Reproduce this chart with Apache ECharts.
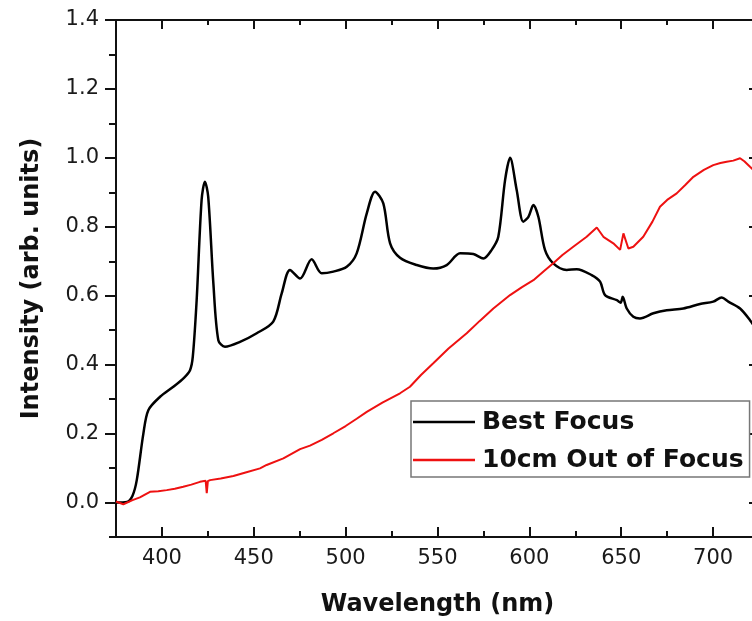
<!DOCTYPE html>
<html>
<head>
<meta charset="utf-8">
<script src="https://cdn.jsdelivr.net/npm/echarts@6/dist/echarts.min.js"></script>
<style>
  html, body { margin: 0; padding: 0; background: #fff; }
  #chart { width: 752px; height: 621px; }
</style>
</head>
<body>
<div id="chart"></div>
<script>
// Best Focus (black)
const bestX = [375, 381, 384, 386.3, 389.9, 392.6, 399, 406.2, 412, 415.3, 416.8, 418.9, 421.6, 423.4, 425.2, 428, 430.7, 434.3, 442.5, 451.6, 460.6, 465.2, 469.7, 475.2, 481.5, 487, 493.3, 500.6, 506, 511.5, 516, 520.5, 524.2, 529.6, 538.7, 547.7, 555, 562.3, 569.5, 575, 579.5, 583.1, 586.8, 589.5, 593.1, 596.7, 599.5, 602.2, 604.9, 608.5, 613, 620.3, 625.8, 633.9, 638.5, 641.2, 647.6, 649.7, 650.8, 653, 656.6, 660.2, 667.5, 674.8, 683.8, 692.9, 700.1, 704.7, 708.3, 714.7, 720.1, 725]
const bestY = [0.0, 0.002, 0.02, 0.065, 0.2, 0.268, 0.307, 0.336, 0.362, 0.384, 0.423, 0.587, 0.878, 0.931, 0.887, 0.636, 0.471, 0.452, 0.466, 0.491, 0.525, 0.607, 0.675, 0.65, 0.706, 0.665, 0.67, 0.684, 0.723, 0.839, 0.902, 0.868, 0.752, 0.71, 0.689, 0.679, 0.689, 0.723, 0.721, 0.708, 0.733, 0.771, 0.936, 1.0, 0.907, 0.815, 0.829, 0.863, 0.829, 0.733, 0.694, 0.675, 0.677, 0.66, 0.641, 0.602, 0.587, 0.58, 0.597, 0.563, 0.539, 0.534, 0.549, 0.558, 0.563, 0.576, 0.583, 0.595, 0.583, 0.563, 0.529, 0.49]

// 10cm Out of Focus (red)
const outX = [375, 379, 384, 388, 393.5, 398, 402.6, 407, 411.6, 416, 420.7, 423.8, 424.4, 425, 426.2, 432, 438.9, 446, 453.4, 457, 466.1, 475.2, 480.6, 487, 493.3, 500, 506, 511.5, 520, 529.6, 535, 541, 547.7, 556, 565.9, 573, 580.4, 589.5, 596, 602.2, 608, 613, 618, 623.9, 631.2, 636.7, 640.3, 645.7, 649.4, 651.2, 653.9, 656.6, 662, 667, 671.1, 675, 680.2, 685, 689.3, 695, 700.1, 704, 707.4, 711, 714.7, 717, 720.1, 725]
const outY = [0.003, -0.005, 0.007, 0.015, 0.031, 0.033, 0.036, 0.04, 0.046, 0.052, 0.06, 0.063, 0.027, 0.062, 0.065, 0.07, 0.077, 0.088, 0.099, 0.109, 0.128, 0.155, 0.165, 0.182, 0.201, 0.222, 0.243, 0.263, 0.29, 0.317, 0.336, 0.37, 0.404, 0.447, 0.491, 0.527, 0.563, 0.602, 0.625, 0.645, 0.672, 0.694, 0.718, 0.742, 0.771, 0.798, 0.771, 0.752, 0.733, 0.781, 0.737, 0.742, 0.771, 0.815, 0.858, 0.878, 0.897, 0.922, 0.945, 0.965, 0.979, 0.985, 0.989, 0.992, 0.999, 0.99, 0.974, 0.95]

// axis ticks
const xMajor = [400, 450, 500, 550, 600, 650, 700]
const xMinor = [425, 475, 525, 575, 625, 675, 725]
const yMajor = [0, 0.2, 0.4, 0.6, 0.8, 1.0, 1.2, 1.4]
const yMinor = [-0.1, 0.1, 0.3, 0.5, 0.7, 0.9, 1.1, 1.3]

const X_MIN = 375
const X_MAX = 725
const Y_MIN = -0.1
const Y_MAX = 1.4

const font = 'DejaVu Sans'
const ink = '#111'

function pairs (xs, ys) {
  return xs.map((x, i) => [x, ys[i]])
}

// one axis that only draws ticks (no line, no labels)
function tickAxis (extra) {
  return Object.assign({
    type: 'value',
    axisLine: { show: false, onZero: false },
    axisLabel: { show: false },
    splitLine: { show: false }
  }, extra)
}

const chart = echarts.init(document.getElementById('chart'), null, { renderer: 'canvas' })

// plot box runs a little past the right edge of the picture (as in the cropped original)
const gridBox = { left: 116, top: 20, width: 643, height: 517, containLabel: false, outerBoundsMode: 'none' }

const option = {
  backgroundColor: '#fff',
  animation: false,
  grid: [
    Object.assign({}, gridBox),
    Object.assign({}, gridBox)
  ],
  legend: {
    data: [
      { name: 'Best Focus', icon: 'rect' },
      { name: '10cm Out of Focus', icon: 'rect' }
    ],
    orient: 'vertical',
    left: 411,
    top: 401,
    itemWidth: 62,
    itemHeight: 2.5,
    itemGap: 8,
    padding: [6, 6, 2, 2],
    borderColor: '#777',
    borderWidth: 1.5,
    backgroundColor: '#fff',
    textStyle: {
      fontFamily: font,
      fontWeight: 'bold',
      fontSize: 25,
      lineHeight: 30,
      padding: [0, 0, 0, 2],
      color: ink
    }
  },
  xAxis: [
    {
      type: 'value',
      gridIndex: 0,
      position: 'bottom',
      min: X_MIN,
      max: X_MAX,
      name: 'Wavelength (nm)',
      nameLocation: 'middle',
      nameGap: 56,
      nameTextStyle: { fontFamily: font, fontWeight: 'bold', fontSize: 24, color: ink },
      axisLine: { onZero: false, lineStyle: { color: ink, width: 2 } },
      axisTick: { inside: true, length: 10, customValues: xMajor, lineStyle: { color: ink, width: 2 } },
      axisLabel: { customValues: xMajor, margin: 11, fontFamily: font, fontSize: 21, color: '#1a1a1a' },
      splitLine: { show: false }
    },
    {
      type: 'value',
      gridIndex: 0,
      position: 'top',
      min: X_MIN,
      max: X_MAX,
      axisLine: { onZero: false, lineStyle: { color: ink, width: 2 } },
      axisTick: { inside: true, length: 9, customValues: xMajor, lineStyle: { color: ink, width: 2 } },
      axisLabel: { show: false },
      splitLine: { show: false }
    },
    tickAxis({
      gridIndex: 1,
      position: 'bottom',
      min: X_MIN,
      max: X_MAX,
      axisTick: { inside: true, length: 6, customValues: xMinor, lineStyle: { color: ink, width: 2 } }
    }),
    tickAxis({
      gridIndex: 1,
      position: 'top',
      min: X_MIN,
      max: X_MAX,
      axisTick: { inside: true, length: 5, customValues: xMinor, lineStyle: { color: ink, width: 2 } }
    })
  ],
  yAxis: [
    {
      type: 'value',
      gridIndex: 0,
      position: 'left',
      min: Y_MIN,
      max: Y_MAX,
      name: 'Intensity (arb. units)',
      nameLocation: 'middle',
      nameGap: 72,
      nameTextStyle: { fontFamily: font, fontWeight: 'bold', fontSize: 24, color: ink },
      axisLine: { onZero: false, lineStyle: { color: ink, width: 2 } },
      axisTick: { inside: false, length: 11, customValues: yMajor, lineStyle: { color: ink, width: 2 } },
      axisLabel: {
        customValues: yMajor,
        margin: 17,
        fontFamily: font,
        fontSize: 21,
        color: '#1a1a1a',
        formatter: v => v.toFixed(1)
      },
      splitLine: { show: false }
    },
    {
      type: 'value',
      gridIndex: 0,
      position: 'right',
      min: Y_MIN,
      max: Y_MAX,
      axisLine: { onZero: false, lineStyle: { color: ink, width: 2 } },
      axisTick: { inside: true, length: 10, customValues: yMajor, lineStyle: { color: ink, width: 2 } },
      axisLabel: { show: false },
      splitLine: { show: false }
    },
    tickAxis({
      gridIndex: 1,
      position: 'left',
      min: Y_MIN,
      max: Y_MAX,
      axisTick: { inside: false, length: 7, customValues: yMinor, lineStyle: { color: ink, width: 2 } }
    }),
    tickAxis({
      gridIndex: 1,
      position: 'right',
      min: Y_MIN,
      max: Y_MAX,
      axisTick: { inside: true, length: 5, customValues: yMinor, lineStyle: { color: ink, width: 2 } }
    })
  ],
  series: [
    {
      name: 'Best Focus',
      type: 'line',
      xAxisIndex: 0,
      yAxisIndex: 0,
      symbol: 'none',
      smooth: 0.3,
      data: pairs(bestX, bestY),
      lineStyle: { color: '#000', width: 2.5 },
      itemStyle: { color: '#000' }
    },
    {
      name: '10cm Out of Focus',
      type: 'line',
      xAxisIndex: 0,
      yAxisIndex: 0,
      symbol: 'none',
      data: pairs(outX, outY),
      lineStyle: { color: '#ee1111', width: 2 },
      itemStyle: { color: '#ee1111' }
    }
  ]
}

chart.setOption(option)
</script>
</body>
</html>
